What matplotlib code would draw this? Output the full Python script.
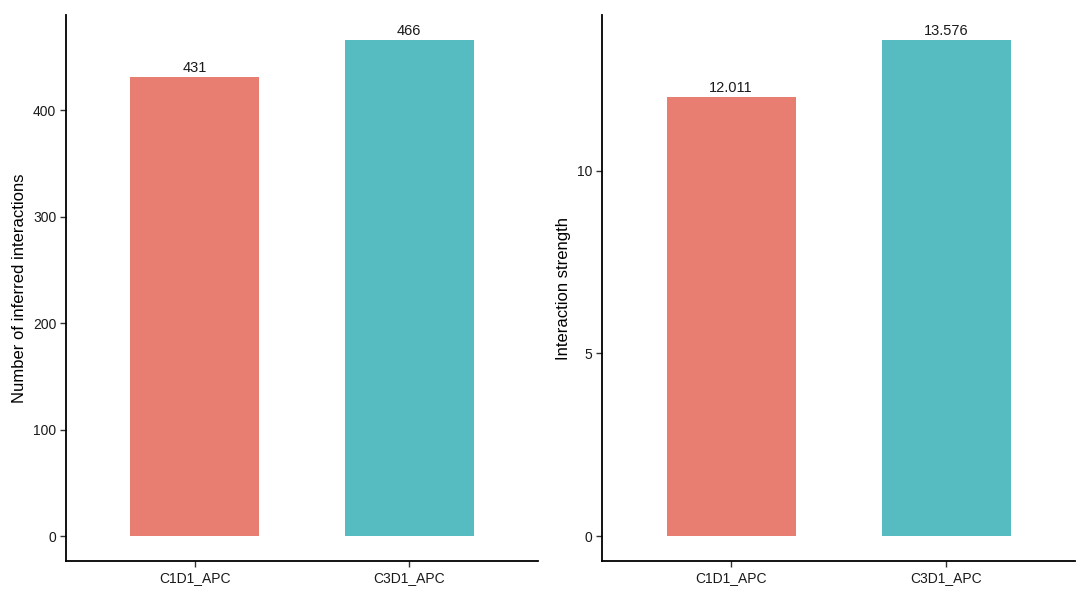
import matplotlib.pyplot as plt

plt.rcParams['font.family'] = ['Liberation Sans', 'DejaVu Sans']

# data
groups = ["C1D1_APC", "C3D1_APC"]
n_interactions = [431, 466]
strength = [12.011, 13.576]
bar_colors = ["#E87D72", "#56BCC2"]

fig = plt.figure(figsize=(10.8, 5.91), dpi=100)
ax1 = fig.add_axes([66 / 1080, 30 / 591, 472 / 1080, 546 / 591])
ax2 = fig.add_axes([602 / 1080, 30 / 591, 473 / 1080, 546 / 591])


def draw_panel(ax, values, ylabel, fmt, ticks):
    x = range(len(groups))
    ax.bar(x, values, width=0.6, color=bar_colors)
    top = max(values)
    for xi, v in zip(x, values):
        ax.text(xi, v + top * 0.004, fmt.format(v), ha="center", va="bottom",
                fontsize=10.5, color="#1a1a1a")
    ax.set_xlim(-0.6, len(groups) - 0.4)
    ax.set_ylim(-0.05 * top, top * 1.05)
    ax.set_xticks(list(x))
    ax.set_xticklabels(groups)
    ax.set_yticks(ticks)
    ax.set_ylabel(ylabel, fontsize=12, color="black")
    for s in ["top", "right"]:
        ax.spines[s].set_visible(False)
    for s in ["left", "bottom"]:
        ax.spines[s].set_linewidth(1.3)
        ax.spines[s].set_color("black")
    ax.tick_params(axis="both", length=4, width=1, color="#333333",
                   labelsize=10, labelcolor="#1a1a1a", pad=3)


draw_panel(ax1, n_interactions, "Number of inferred interactions", "{:d}",
           [0, 100, 200, 300, 400])
draw_panel(ax2, strength, "Interaction strength", "{:.3f}", [0, 5, 10])

fig.savefig("out.png", dpi=100)
